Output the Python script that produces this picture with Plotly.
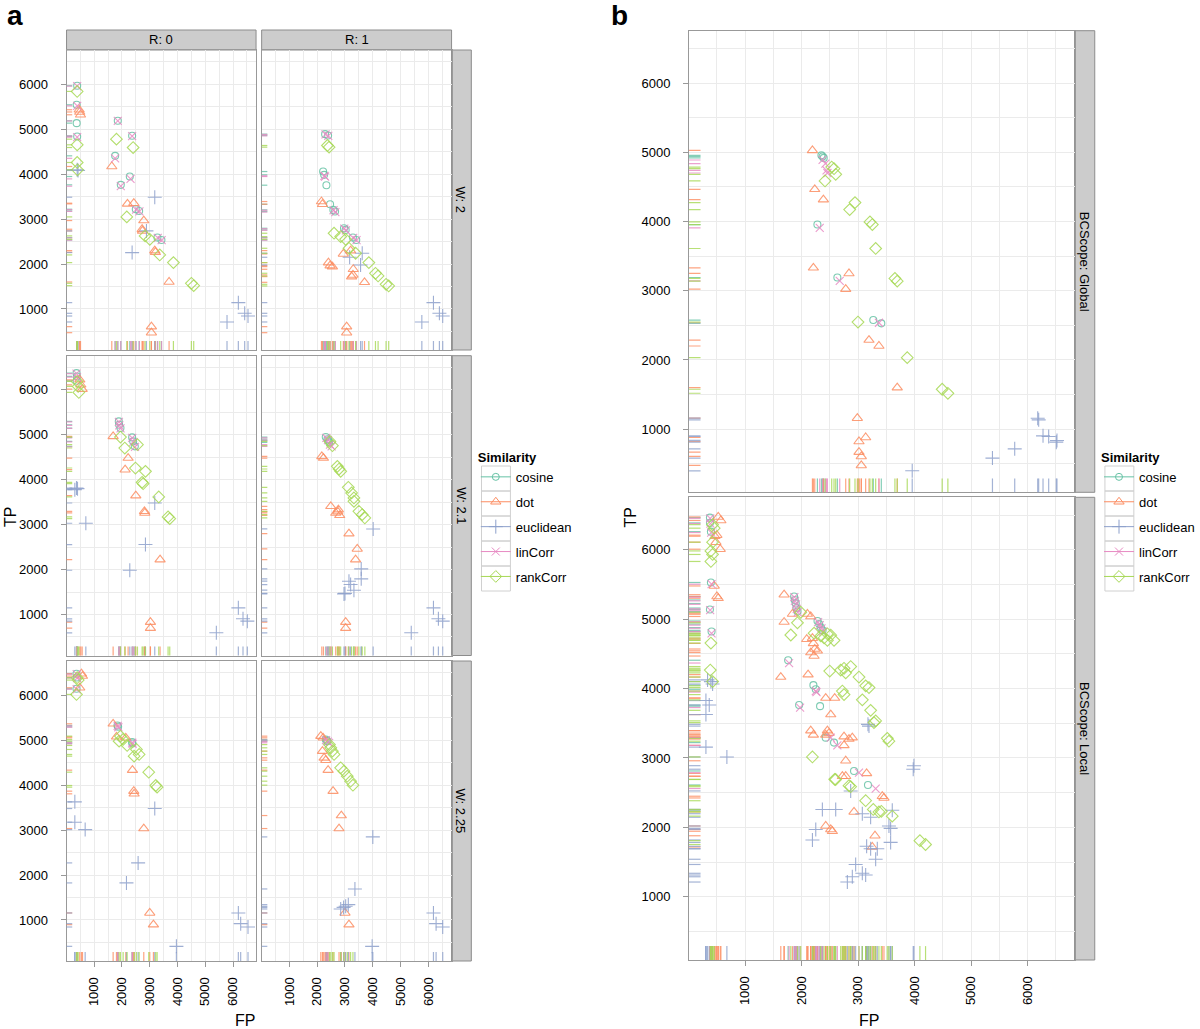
import plotly.graph_objects as go

# ---------------- data (FP, TP) ----------------
SERIES = ["cosine", "dot", "euclidean", "linCorr", "rankCorr"]

# Panel a, W: 2, R: 0
w2_r0_cosine = [(388,5963),(370,5540),(370,5132),(388,4835),(1851,5184),(2367,4850),(1755,4405),(2283,3945),(1959,3760),(2499,3218),(2619,3180),(3278,2588),(3422,2535)]
w2_r0_linCorr = [(388,5955),(390,5518),(388,4820),(1851,5180),(2367,4845),(1755,4350),(2310,3893),(1959,3730),(2510,3210),(2630,3170),(3290,2580),(3430,2530)]
w2_r0_dot = [(460,5430),(508,5318),(480,5380),(1635,4168),(2199,3337),(2427,3352),(2787,2966),(2727,2773),(2740,2736),(3182,2298),(3206,2261),(3698,1600),(3062,607),(3062,473)]
w2_r0_euclidean = [(388,4094),(420,4080),(3182,3485),(2883,2736),(2367,2254),(6192,1141),(6420,904),(6540,844),(5784,711)]
w2_r0_rankCorr = [(388,5837),(388,4650),(388,4257),(400,4094),(1803,4776),(2403,4590),(2175,3047),(2835,2625),(3003,2550),(3362,2202),(3854,2031),(4501,1571),(4585,1519)]

# Panel a, W: 2, R: 1
w2_r1_cosine = [(2286,4887),(2393,4857),(2214,4056),(2250,3982),(2333,3752),(2464,3329),(2583,3203),(2643,3166),(2964,2795),(3024,2758),(3286,2588),(3405,2535)]
w2_r1_linCorr = [(2300,4880),(2400,4850),(2286,3945),(2260,3960),(2590,3195),(2655,3155),(2975,2785),(3035,2750),(3295,2580),(3415,2530)]
w2_r1_dot = [(2155,3389),(2190,3329),(2940,2224),(3202,2298),(2405,2031),(2464,1964),(2548,1942),(3298,1883),(3238,1720),(3286,1757),(3702,1593),(3060,607),(3060,473)]
w2_r1_euclidean = [(3619,2239),(3167,2150),(3560,1979),(6179,1141),(6393,904),(6512,844),(5762,711)]
w2_r1_rankCorr = [(2369,4635),(2429,4598),(2607,2684),(2845,2610),(3024,2550),(3143,2350),(3381,2239),(3857,2031),(4095,1794),(4190,1734),(4476,1549),(4571,1512)]

# Panel a, W: 2.1, R: 0
w21_r0_cosine = [(364,6370),(380,6296),(370,6200),(1887,5296),(1899,5222),(1947,5148),(2367,4940),(2403,4852),(2463,4741)]
w21_r0_linCorr = [(364,6360),(380,6280),(1890,5285),(1905,5210),(1950,5140),(2370,4930),(2410,4840),(2470,4730)]
w21_r0_dot = [(484,6222),(520,6111),(568,6015),(1683,4963),(2223,4481),(2115,4222),(2499,3644),(2811,3296),(2823,3259),(3374,2222),(3026,830),(3026,696)]
w21_r0_euclidean = [(364,3815),(304,3778),(400,3800),(700,3030),(3182,3481),(2847,2556),(2283,1985),(6192,1148),(6360,904),(6516,852),(5400,593)]
w21_r0_rankCorr = [(388,6185),(424,6074),(448,5941),(1947,4948),(2103,4704),(2559,4778),(2487,4259),(2847,4185),(2727,3941),(2763,3911),(3326,3615),(3662,3170),(3722,3133)]

# Panel a, W: 2.1, R: 1
w21_r1_cosine = [(2310,4948),(2369,4900),(2429,4830),(2400,4870)]
w21_r1_linCorr = [(2330,4930),(2390,4880),(2460,4780),(2520,4740)]
w21_r1_dot = [(2167,4518),(2226,4481),(2488,3407),(2667,3259),(2762,3333),(2810,3207),(2740,3290),(3143,2800),(3440,2459),(3381,2222),(3024,830),(3024,696)]
w21_r1_euclidean = [(4012,2904),(3583,2015),(3583,1793),(3143,1741),(3202,1667),(3321,1541),(2964,1459),(3000,1470),(6179,1148),(6357,904),(6512,852),(5381,593)]
w21_r1_rankCorr = [(2548,4756),(2460,4850),(2726,4296),(2786,4237),(2845,4185),(3119,3830),(3238,3704),(3321,3593),(3321,3519),(3500,3296),(3619,3222),(3714,3148)]

# Panel a, W: 2.25, R: 0
w225_r0_cosine = [(364,6475),(380,6390),(364,6141),(1839,5325),(1863,5295),(2367,4954),(2379,4924)]
w225_r0_linCorr = [(370,6465),(385,6380),(370,6130),(1845,5315),(1870,5285),(2370,4945),(2385,4915)]
w225_r0_dot = [(544,6475),(580,6423),(480,6163),(1683,5362),(1803,5073),(2139,5050),(2379,4331),(2427,3864),(2439,3805),(2787,3033),(3002,1156),(3134,896)]
w225_r0_euclidean = [(304,3626),(304,3174),(676,3010),(3182,3478),(2583,2269),(2163,1824),(6192,1156),(6276,918),(6540,844),(3962,414)]
w225_r0_rankCorr = [(388,6386),(424,6334),(364,6015),(1947,5087),(1899,4976),(2043,5013),(2187,4880),(2523,4791),(2439,4643),(2619,4680),(2966,4286),(3218,3990),(3266,3953)]

# Panel a, W: 2.25, R: 1
w225_r1_cosine = [(2310,5013),(2369,4976),(2340,4990)]
w225_r1_linCorr = [(2320,5000),(2380,4965),(2429,4939)]
w225_r1_dot = [(2131,5087),(2214,5050),(2190,4754),(2250,4605),(2310,4553),(2393,4331),(2571,3864),(2869,3322),(2786,3033),(3000,1156),(3143,896)]
w225_r1_euclidean = [(4000,2847),(3357,1690),(2845,1245),(3024,1304),(3119,1341),(2950,1280),(6179,1156),(6274,918),(6512,844),(3976,414)]
w225_r1_rankCorr = [(2488,4828),(2548,4754),(2607,4680),(2845,4383),(2964,4309),(3083,4197),(3202,4086),(3286,3997),(2440,4900)]

# Panel b, BCScope: Global
glob_cosine = [(2349,4957),(2390,4920),(2370,4940),(2278,3957),(2631,3192),(3267,2577),(3409,2529)]
glob_linCorr = [(2370,4890),(2420,4837),(2440,4740),(2455,4702),(2319,3909),(2673,3144),(3367,2538)]
glob_dot = [(2190,5029),(2231,4466),(2384,4317),(2207,3332),(2837,3250),(2779,3024),(3191,2288),(3367,2202),(3691,1601),(2985,1159),(3132,880),(3014,822),(3014,668),(3055,606),(3055,476)]
glob_euclidean = [(6177,1159),(6194,1135),(6271,904),(6371,894),(6518,837),(6506,813),(5770,716),(5376,582),(3956,399)]
glob_rankCorr = [(2531,4788),(2572,4764),(2602,4683),(2413,4587),(2849,4173),(2943,4274),(3208,3995),(3250,3957),(3309,3611),(3650,3178),(3691,3139),(2996,2548),(3868,2034),(4486,1577),(4587,1519)]

# Panel b, BCScope: Local
loc_cosine = [(376,6465),(376,6389),(393,6263),(393,5530),(376,5141),(405,4823),(1866,5328),(1877,5278),(1895,5227),(1907,5162),(1925,5111),(2280,4975),(2310,4930),(2340,4880),(2370,4840),(1760,4409),(2207,4050),(2249,3990),(2325,3747),(1954,3763),(2425,3293),(2572,3222),(2926,2813),(3173,2611)]
loc_linCorr = [(380,6455),(385,6380),(398,6250),(405,5505),(380,5130),(405,4798),(1870,5318),(1880,5265),(1900,5215),(1912,5150),(1930,5100),(2290,4960),(2320,4915),(2350,4870),(2375,4823),(1777,4369),(2249,3965),(2262,3950),(1972,3727),(2514,3293),(2631,3182),(3014,2788),(3309,2560)]
loc_dot = [(523,6475),(570,6424),(464,6197),(499,6212),(482,6111),(558,6010),(452,5480),(499,5328),(523,5303),(1689,5354),(1836,5076),(1689,4960),(2101,5076),(2160,5040),(2089,4712),(2190,4727),(2207,4652),(2231,4571),(2278,4545),(2160,4520),(2219,4470),(1630,4167),(2113,4202),(2425,3864),(2584,3864),(2514,3626),(2160,3394),(2207,3333),(2455,3394),(2484,3359),(2425,3333),(2749,3308),(2749,3182),(2837,3273),(2896,3293),(2779,2960),(2720,2737),(2779,2737),(3149,2778),(3426,2449),(3456,2424),(2926,2222),(2425,2020),(2514,1970),(2543,1944),(3297,1879),(3249,1717)]
loc_euclidean = [(334,4126),(393,4101),(423,4066),(305,3828),(364,3763),(305,3626),(305,3157),(676,3015),(3173,3485),(3191,3460),(2867,2525),(2366,2258),(2602,2258),(3073,2197),(3220,2146),(3603,2247),(2249,1970),(2190,1818),(3544,2020),(3574,1985),(3574,1783),(3149,1727),(3220,1692),(3338,1692),(3309,1540),(2955,1465),(3073,1338),(3132,1313),(2896,1288),(2808,1212),(3986,2889),(3974,2838)]
loc_rankCorr = [(423,6364),(452,6313),(423,6111),(393,5985),(423,5934),(393,5833),(393,4657),(382,4268),(423,4101),(1925,4949),(1983,5101),(1807,4773),(2219,4800),(2337,4760),(2396,4730),(2455,4790),(2514,4770),(2572,4697),(2455,4697),(2496,4253),(2690,4268),(2779,4227),(2749,4293),(2867,4318),(3014,4167),(3132,4040),(3191,4015),(2720,3965),(2749,3914),(3073,3838),(3220,3687),(3309,3535),(3279,3510),(3515,3283),(3544,3242),(2190,3015),(2584,2692),(2600,2690),(2837,2601),(2867,2586),(3132,2384),(3267,2258),(3367,2222),(3409,2232),(3603,2162),(4092,1808),(4192,1753)]

TICKS = [1000, 2000, 3000, 4000, 5000, 6000]
X_RANGE = [5, 6830]
Y_RANGE = [88, 6758]

# ---------------- styling ----------------
W, H = 1200, 1029
FONT = "Liberation Sans, Arial, Helvetica, sans-serif"
COLORS = {"cosine": (102, 194, 165), "dot": (252, 141, 98), "euclidean": (141, 160, 203),
          "linCorr": (231, 138, 195), "rankCorr": (166, 216, 84)}
SYMBOLS = {"cosine": "circle-open", "dot": "triangle-up-open", "euclidean": "cross-thin-open",
           "linCorr": "x-thin-open", "rankCorr": "diamond-open"}
SIZES = {"cosine": 7, "dot": 9, "euclidean": 10, "linCorr": 8, "rankCorr": 9}

def rgba(c, a):
    return f"rgba({c[0]},{c[1]},{c[2]},{a})"

def px(x):
    return x / W

def py(y):
    return 1 - y / H

g = globals()
panels = [
    dict(pre="w2_r0", xpx=(66.7, 256.7), ypx=(50, 350), xl=False, yl=True),
    dict(pre="w2_r1", xpx=(262.3, 452.7), ypx=(50, 350), xl=False, yl=False),
    dict(pre="w21_r0", xpx=(66.7, 256.7), ypx=(355.7, 655.5), xl=False, yl=True),
    dict(pre="w21_r1", xpx=(262.3, 452.7), ypx=(355.7, 655.5), xl=False, yl=False),
    dict(pre="w225_r0", xpx=(66.7, 256.7), ypx=(661, 961), xl=True, yl=True),
    dict(pre="w225_r1", xpx=(262.3, 452.7), ypx=(661, 961), xl=True, yl=False),
    dict(pre="glob", xpx=(690.7, 1077.3), ypx=(30.7, 492.3), xl=False, yl=True),
    dict(pre="loc", xpx=(690.7, 1077.3), ypx=(497.3, 960), xl=True, yl=True),
]

fig = go.Figure()
shapes = []
layout = {}
GRID = "#ebebeb"
FRAME = "#999999"

for i, p in enumerate(panels, start=1):
    xa = "x" if i == 1 else f"x{i}"
    ya = "y" if i == 1 else f"y{i}"
    xk = "xaxis" if i == 1 else f"xaxis{i}"
    yk = "yaxis" if i == 1 else f"yaxis{i}"
    layout[xk] = dict(
        domain=[px(p["xpx"][0]), px(p["xpx"][1])], anchor=ya, range=X_RANGE,
        tickvals=TICKS, showticklabels=p["xl"], ticks="outside" if p["xl"] else "",
        ticklen=5, tickcolor=FRAME, tickangle=-90, tickfont=dict(size=13, color="black", family=FONT),
        ticklabelstandoff=5,
        showgrid=True, gridcolor=GRID, gridwidth=1, zeroline=False,
        minor=dict(dtick=500, tick0=0, showgrid=True, gridcolor=GRID, gridwidth=1),
        showline=True, mirror=True, linecolor=FRAME, linewidth=1, fixedrange=True,
    )
    layout[yk] = dict(
        domain=[py(p["ypx"][1]), py(p["ypx"][0])], anchor=xa, range=Y_RANGE,
        tickvals=TICKS, showticklabels=p["yl"], ticks="outside" if p["yl"] else "",
        ticklen=5, tickcolor=FRAME, tickfont=dict(size=13, color="black", family=FONT),
        ticklabelstandoff=10,
        showgrid=True, gridcolor=GRID, gridwidth=1, zeroline=False,
        minor=dict(dtick=500, tick0=0, showgrid=True, gridcolor=GRID, gridwidth=1),
        showline=True, mirror=True, linecolor=FRAME, linewidth=1, fixedrange=True,
    )
    for s in SERIES:
        pts = g[f"{p['pre']}_{s}"]
        c = COLORS[s]
        fig.add_trace(go.Scatter(
            x=[q[0] for q in pts], y=[q[1] for q in pts], mode="markers", name=s,
            xaxis=xa, yaxis=ya, showlegend=False, hoverinfo="x+y+name",
            marker=dict(symbol=SYMBOLS[s], size=SIZES[s], color=rgba(c, 0.85),
                        line=dict(width=1.1, color=rgba(c, 0.85))),
        ))
        for fp, tp in pts:
            shapes.append(dict(type="line", xref=xa, yref=f"{ya} domain", x0=fp, x1=fp, y0=0, y1=0.03,
                               line=dict(color=rgba(c, 0.8), width=1.2), layer="above"))
            shapes.append(dict(type="line", xref=f"{xa} domain", yref=ya, x0=0, x1=0.03, y0=tp, y1=tp,
                               line=dict(color=rgba(c, 0.8), width=1.2), layer="above"))

# legend entries (line + marker key), one set per figure part
for leg, xa, ya in (("legend", "x", "y"), ("legend2", "x7", "y7")):
    for s in SERIES:
        c = COLORS[s]
        fig.add_trace(go.Scatter(
            x=[None], y=[None], mode="lines+markers", name=s, xaxis=xa, yaxis=ya,
            legend=leg, legendgroup=f"{leg}_{s}", showlegend=True,
            line=dict(color=rgba(c, 1), width=1),
            marker=dict(symbol=SYMBOLS[s], size=SIZES[s], color=rgba(c, 1), line=dict(width=1, color=rgba(c, 1))),
        ))

STRIP_FILL = "#cccccc"
STRIP_LINE = "#8c8c8c"
annotations = []

def strip(x0, y0, x1, y1, text, angle=0):
    shapes.append(dict(type="rect", xref="paper", yref="paper", x0=px(x0), x1=px(x1), y0=py(y1), y1=py(y0),
                       fillcolor=STRIP_FILL, line=dict(color=STRIP_LINE, width=1), layer="below"))
    annotations.append(dict(xref="paper", yref="paper", x=px((x0 + x1) / 2), y=py((y0 + y1) / 2),
                            xanchor="center", yanchor="middle",
                            text=text, showarrow=False, textangle=angle,
                            font=dict(size=13, color="black", family=FONT)))

strip(66.7, 30, 256.7, 50, "R: 0")
strip(262.3, 30, 452.7, 50, "R: 1")
strip(452.7, 50, 472.5, 350, "W: 2", 90)
strip(452.7, 355.7, 472.5, 655.5, "W: 2.1", 90)
strip(452.7, 661, 472.5, 961, "W: 2.25", 90)
strip(1077.3, 30.7, 1097.5, 492.3, "BCScope: Global", 90)
strip(1077.3, 497.3, 1097.5, 960, "BCScope: Local", 90)

def label(x, y, text, size, angle=0, bold=False):
    annotations.append(dict(xref="paper", yref="paper", x=px(x), y=py(y), text=f"<b>{text}</b>" if bold else text,
                            xanchor="center", yanchor="middle",
                            showarrow=False, textangle=angle, font=dict(size=size, color="black", family=FONT)))

label(15, 16, "a", 28, bold=True)
label(621, 15, "b", 28, bold=True)
label(10, 517, "TP", 16, -90)
label(632, 517, "TP", 16, -90)
label(246, 1020, "FP", 16)
label(871, 1020, "FP", 16)

legend_common = dict(
    xanchor="left", yanchor="top", bgcolor="rgba(0,0,0,0)", borderwidth=0,
    font=dict(size=13, color="black", family=FONT), itemwidth=30, tracegroupgap=5,
    traceorder="grouped", itemclick=False, itemdoubleclick=False,
    title=dict(text="<b>Similarity</b>", font=dict(size=13, color="black", family=FONT)),
)
layout["legend"] = dict(x=px(477), y=py(445), **legend_common)
layout["legend2"] = dict(x=px(1102), y=py(445), **legend_common)

# boxes around legend keys
for lx in (482.7, 1107.7):
    for k in range(5):
        shapes.append(dict(type="rect", xref="paper", yref="paper", x0=px(lx), x1=px(lx + 29),
                           y0=py(466 + 25 * (k + 1)), y1=py(466 + 25 * k),
                           line=dict(color="#d0d0d0", width=1), fillcolor="rgba(0,0,0,0)"))

fig.update_layout(
    width=W, height=H, margin=dict(l=0, r=0, t=0, b=0),
    paper_bgcolor="white", plot_bgcolor="white",
    font=dict(family=FONT, color="black"),
    shapes=shapes, annotations=annotations, **layout,
)

fig.write_html("out.html", config={"displayModeBar": False},
               post_script="document.body.style.margin='0px';document.body.style.overflow='hidden';")
